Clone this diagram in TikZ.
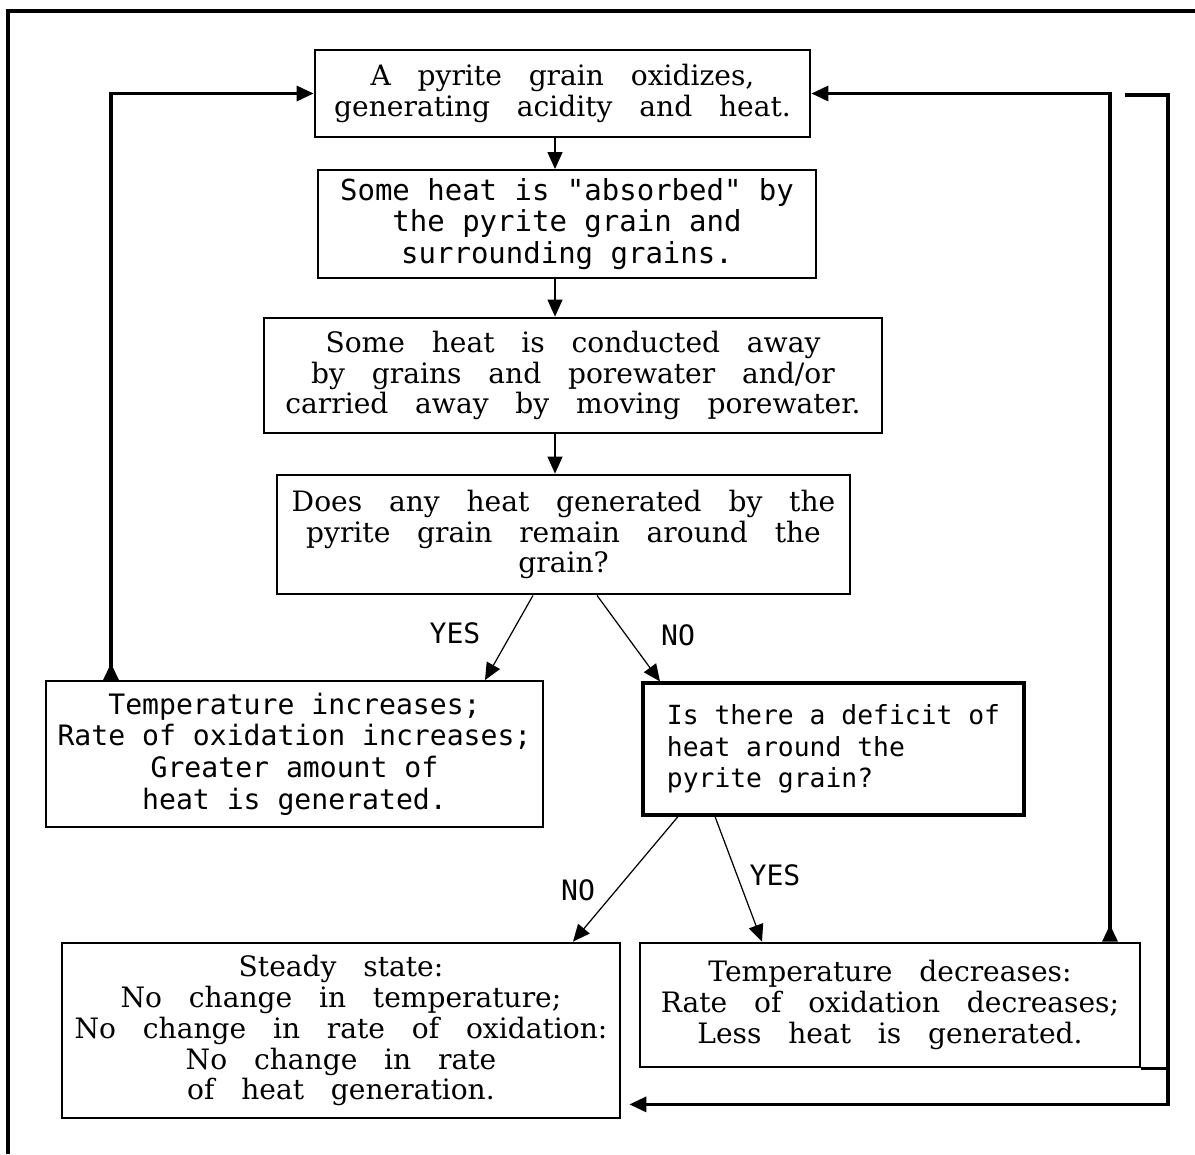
\documentclass[tikz,border=0pt]{standalone}
\usepackage{fontspec}
\usepackage{tikz}
\usetikzlibrary{arrows.meta, calc}
\newfontfamily\boxserif[WordSpace=3]{DejaVu Serif}
\newfontfamily\boxmono{DejaVu Sans Mono}

\begin{document}
\begin{tikzpicture}[x=0.02cm, y=-0.02cm,
  >={Triangle[length=0.34cm,width=0.3cm]},
  serifbox/.style={draw, line width=1.6pt, align=center, inner sep=0pt,
    font=\boxserif\fontsize{16}{17.6}\selectfont},
  monobox/.style={draw, line width=1.1pt, align=center, inner sep=0pt,
    font=\boxmono\fontsize{16}{18}\selectfont},
  lab/.style={font=\boxmono\fontsize{16}{18}\selectfont},
  thinarrow/.style={->, line width=0.7pt},
  loopline/.style={line width=1.8pt,
    {Triangle[reversed,length=0.34cm,width=0.3cm]}-{Triangle[length=0.34cm,width=0.3cm]}}]
\useasboundingbox (0,0) rectangle (1195,1154);
\draw[line width=1.8pt] (8,1154) -- (8,11) -- (1195,11);

% boxes
\node[serifbox, minimum width=9.9cm, minimum height=1.74cm] (oxid) at (562.5,93.5)
  {A pyrite grain oxidizes,\\generating acidity and heat.};
\node[monobox, minimum width=9.96cm, minimum height=2.16cm,
  font=\boxmono\fontsize{16.5}{18}\selectfont] (absorb) at (567,224)
  {Some heat is "absorbed" by\\the pyrite grain and\\surrounding grains.};
\node[serifbox, minimum width=12.36cm, minimum height=2.3cm] (conduct) at (573,375.5)
  {Some heat is conducted away\\by grains and porewater and/or\\carried away by moving porewater.};
\node[serifbox, minimum width=11.46cm, minimum height=2.38cm] (remain) at (563.5,534.5)
  {Does any heat generated by the\\pyrite grain remain around the\\grain?};
\node[monobox, minimum width=9.94cm, minimum height=2.92cm] (heatup) at (294.5,754)
  {Temperature increases;\\Rate of oxidation increases;\\Greater amount of\\heat is generated.};
\node[monobox, line width=1.8pt, align=left, minimum width=7.62cm, minimum height=2.64cm,
  font=\boxmono\fontsize{15}{18}\selectfont] (deficit) at (833.5,749)
  {Is there a deficit of\\heat around the\\pyrite grain?};
\node[serifbox, minimum width=11.16cm, minimum height=3.5cm] (steady) at (341,1030.5)
  {Steady state:\\No change in temperature;\\No change in rate of oxidation:\\No change in rate\\of heat generation.};
\node[serifbox, minimum width=10cm, minimum height=2.48cm] (cool) at (890,1005)
  {Temperature decreases:\\Rate of oxidation decreases;\\Less heat is generated.};

% main chain
\coordinate (spine) at (555,0);
\draw[thinarrow] (oxid.south -| spine) -- (absorb.north -| spine);
\draw[thinarrow] (absorb.south -| spine) -- (conduct.north -| spine);
\draw[thinarrow] (conduct.south -| spine) -- (remain.north -| spine);

% branches
\draw[thinarrow] ($(remain.south)+(-30.5,0)$) -- ($(heatup.north)+(190.5,0)$);
\draw[thinarrow] ($(remain.south)+(33.5,0)$) -- ($(deficit.north)+(-173.5,0)$);
\draw[thinarrow] ($(deficit.south)+(-155.5,0)$) -- ($(steady.north)+(232,0)$);
\draw[thinarrow] ($(deficit.south)+(-118.5,0)$) -- ($(cool.north)+(-128,0)$);
\node[lab] (yes1) at (455,633) {YES};
\node[lab] (no1) at (678,635) {NO};
\node[lab] (no2) at (578,890) {NO};
\node[lab] (yes2) at (775,875) {YES};

% feedback loops
\draw[loopline] ($(heatup.north)+(-183.5,0)$) |- (oxid.west);
\draw[loopline] ($(cool.north)+(220,0)$) |- (oxid.east);
\coordinate (rtop) at (1125,95);
\coordinate (rcorner) at (1168,95);
\draw[line width=1.8pt, ->] (rtop) -- (rcorner) |- ($(steady.south east)+(8,-15)$);
\draw[line width=1.6pt] (cool.south east) -- (rcorner |- cool.south east);
\end{tikzpicture}
\end{document}
